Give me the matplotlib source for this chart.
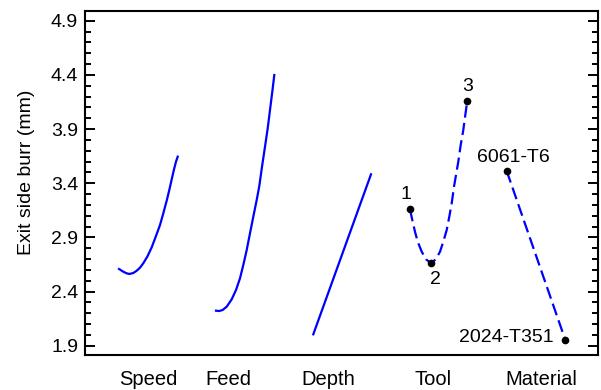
import matplotlib
matplotlib.use("Agg")
import matplotlib.pyplot as plt
from matplotlib.ticker import MultipleLocator

plt.rcParams["font.family"] = ["Liberation Sans", "DejaVu Sans"]

# x positions share one abstract axis; y is exit side burr in mm
speed_x = [119.0, 123.3, 126.7, 129.3, 133.3, 136.7, 140.0, 143.3, 147.3, 151.7,
           155.7, 160.0, 163.3, 166.7, 169.3, 171.7, 174.0, 176.0, 177.7]
speed_y = [2.608, 2.583, 2.568, 2.562, 2.571, 2.592, 2.620, 2.661, 2.722, 2.808,
           2.906, 3.014, 3.122, 3.239, 3.337, 3.436, 3.528, 3.599, 3.645]

feed_x = [216.0, 219.3, 222.7, 226.7, 231.7, 236.0, 240.0, 243.3, 246.7, 250.0,
          253.3, 256.7, 259.3, 262.0, 265.0, 267.7, 270.0, 272.3, 274.3]
feed_y = [2.223, 2.220, 2.230, 2.260, 2.328, 2.414, 2.522, 2.645, 2.783, 2.938,
          3.091, 3.245, 3.374, 3.552, 3.737, 3.907, 4.076, 4.245, 4.399]

depth_x = [313.3, 342.0, 371.0]
depth_y = [2.005, 2.740, 3.482]

tool_x = [410.0, 412.3, 415.0, 417.7, 421.7, 426.0, 431.0, 436.0, 440.0, 443.3,
          446.7, 449.3, 451.7, 454.0, 456.3, 458.3, 460.7, 463.3, 465.3, 467.3]
tool_y = [3.159, 3.060, 2.952, 2.860, 2.768, 2.698, 2.661, 2.700, 2.768, 2.860,
          2.968, 3.091, 3.214, 3.368, 3.491, 3.599, 3.753, 3.891, 4.030, 4.162]
tool_levels_x = [410.0, 431.0, 467.3]
tool_levels_y = [3.159, 2.661, 4.162]
tool_names = ["1", "2", "3"]

material_x = [506.7, 565.3]
material_y = [3.513, 1.953]
material_names = ["6061-T6", "2024-T351"]

factor_names = ["Speed", "Feed", "Depth", "Tool", "Material"]
factor_pos = [148.3, 228.3, 328.3, 433.3, 541]

BLUE = "#0000ff"
DASH = (0, (5.5, 2.4))

fig = plt.figure(figsize=(6.01, 3.90), dpi=100)
ax = fig.add_axes([85 / 601, 35 / 390, 513 / 601, 344 / 390])

ax.plot(speed_x, speed_y, color=BLUE, lw=1.6)
ax.plot(feed_x, feed_y, color=BLUE, lw=1.6)
ax.plot(depth_x, depth_y, color=BLUE, lw=1.6)
ax.plot(tool_x, tool_y, color=BLUE, lw=1.6, linestyle=DASH)
ax.plot(material_x, material_y, color=BLUE, lw=1.6, linestyle=DASH)

ax.plot(tool_levels_x, tool_levels_y, "o", color="black", ms=4.5, zorder=5)
ax.plot(material_x, material_y, "o", color="black", ms=4.5, zorder=5)

# point labels, offsets in points
tool_offsets = [(-3, 11), (3, -12), (0, 10.5)]
for x, y, name, off in zip(tool_levels_x, tool_levels_y, tool_names, tool_offsets):
    ax.annotate(name, (x, y), xytext=off, textcoords="offset points",
                ha="center", va="center", fontsize=14)
ax.annotate(material_names[0], (material_x[0], material_y[0]), xytext=(4.5, 9.5),
            textcoords="offset points", ha="center", va="center", fontsize=14)
ax.annotate(material_names[1], (material_x[1], material_y[1]), xytext=(-8.5, 1.5),
            textcoords="offset points", ha="right", va="center", fontsize=14)

ax.set_xlim(85, 598)
ax.set_ylim(1.814, 4.99)

ax.yaxis.set_major_locator(MultipleLocator(0.5))
ax.yaxis.set_minor_locator(MultipleLocator(0.1))
ax.set_yticks([1.9, 2.4, 2.9, 3.4, 3.9, 4.4, 4.9])
ax.tick_params(axis="y", which="both", direction="in", left=True, right=True,
               width=1.4, labelsize=14, pad=5)
ax.tick_params(axis="y", which="major", length=7.5)
ax.tick_params(axis="y", which="minor", length=4)

ax.set_xticks(factor_pos)
ax.set_xticklabels(factor_names)
ax.tick_params(axis="x", length=0, labelsize=14.5, pad=11)

for s in ax.spines.values():
    s.set_linewidth(1.5)

ax.set_ylabel("Exit side burr (mm)", fontsize=14)
ax.yaxis.set_label_coords(-0.097, 0.53)

fig.text(311.5 / 601, 1 + 3.5 / 390, "(a)", ha="center", va="baseline", fontsize=14)

fig.savefig("out.png", dpi=100)
plt.close(fig)
